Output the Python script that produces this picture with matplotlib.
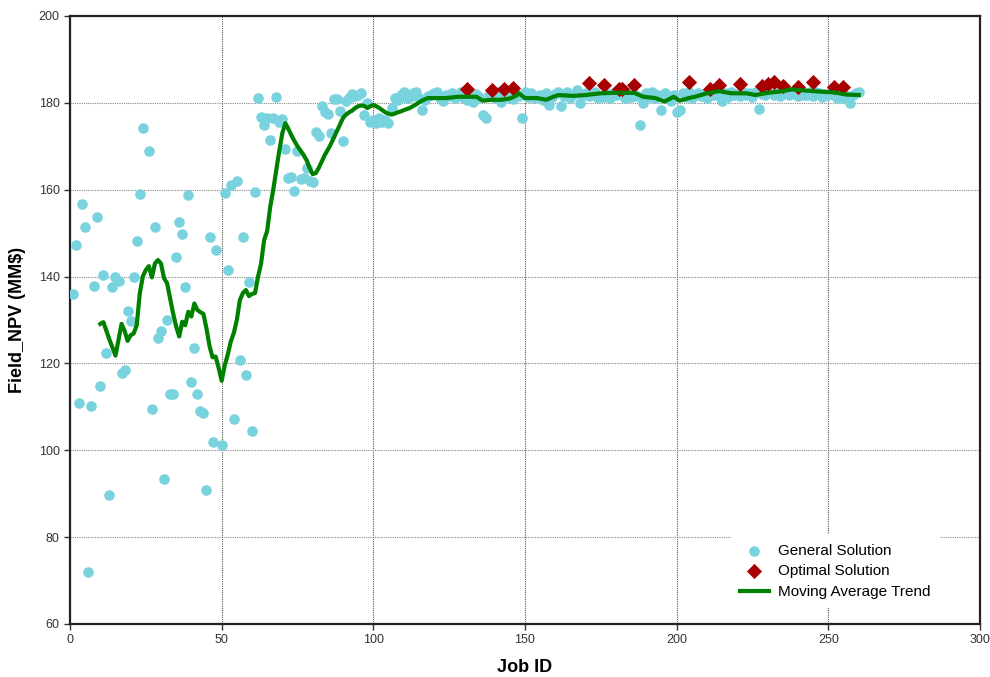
import numpy as np
import matplotlib
matplotlib.use("Agg")
import matplotlib.pyplot as plt

plt.rcParams['font.family'] = ['Liberation Sans', 'DejaVu Sans']

# general solutions, jobs 1-120
gen_jobs_early = [1, 2, 3, 4, 5, 6, 7, 8, 9, 10, 11, 12, 13, 14, 15, 16, 17, 18, 19, 20,
                  21, 22, 23, 24, 26, 27, 28, 29, 30, 31, 32, 33, 34, 35, 36, 37, 38, 39, 40,
                  41, 42, 43, 44, 45, 46, 47, 48, 50, 51, 52, 53, 54, 55, 56, 57, 58, 59, 60,
                  61, 62, 63, 64, 65, 66, 67, 68, 69, 70, 71, 72, 73, 74, 75, 76, 77, 78, 79,
                  80, 81, 82, 83, 84, 85, 86, 87, 88, 89, 90, 91, 92, 93, 94, 95, 96, 97, 98,
                  99, 100, 101, 102, 103, 104, 105, 106, 107, 108, 109, 110, 111, 112, 113,
                  114, 115, 116, 117, 118, 119, 120]
gen_vals_early = [136.0, 147.2, 110.8, 156.7, 151.3, 72.0, 110.2, 137.8, 153.7, 114.9,
                  140.3, 122.5, 89.6, 137.5, 139.8, 138.9, 117.7, 118.4, 132.0, 129.8,
                  139.8, 148.3, 159.0, 174.2, 168.9, 109.4, 151.3, 125.9, 127.5, 93.5,
                  130.0, 112.9, 112.9, 144.5, 152.6, 149.7, 137.5, 158.7, 115.8,
                  123.5, 113.0, 109.1, 108.5, 90.8, 149.2, 101.9, 146.0, 101.2, 159.2,
                  141.5, 161.0, 107.2, 161.9, 120.8, 149.1, 117.3, 138.7, 104.4,
                  159.5, 181.0, 176.8, 174.9, 176.6, 171.4, 176.5, 181.4, 175.7, 176.3,
                  169.3, 162.6, 163.0, 159.7, 169.0, 162.5, 162.6, 164.9, 161.9,
                  161.8, 173.3, 172.4, 179.2, 177.8, 177.4, 173.0, 180.8, 180.9, 178.2,
                  171.1, 180.4, 181.0, 182.0, 181.5, 181.9, 182.2, 177.2, 180.0,
                  175.7, 176.0, 175.3, 176.5, 175.5, 176.0, 175.3, 178.8, 181.0, 180.7,
                  181.8, 182.6, 181.0, 181.4, 182.2, 182.5, 181.0, 178.4, 180.7, 181.5,
                  181.8, 182.2]

# general solutions, jobs 121-260
gen_jobs_late = list(range(121, 261))
gen_vals_late = [182.5, 181.2, 180.5, 181.8, 181.6, 182.3, 181.0, 181.9, 182.6, 181.2,
                 180.7, 181.5, 180.3, 182.0, 181.3, 177.2, 176.4, 181.8, 182.3, 181.0,
                 182.4, 180.3, 181.7, 182.1, 181.2, 180.8, 182.0, 181.5, 176.6, 182.6,
                 181.4, 182.2, 181.0, 181.6, 181.8, 180.6, 182.2, 179.5, 181.3, 182.0,
                 182.6, 179.2, 181.5, 182.6, 181.2, 182.1, 183.0, 179.9, 181.7, 182.3,
                 181.5, 181.8, 182.4, 181.0, 181.6, 181.4, 182.0, 181.2, 182.2, 181.7,
                 182.5, 181.8, 181.0, 182.3, 181.4, 182.0, 181.6, 175.0, 179.9, 182.2,
                 181.3, 182.5, 181.0, 181.8, 178.4, 182.2, 181.5, 180.5, 181.8, 178.0,
                 178.3, 182.2, 181.4, 182.6, 181.0, 181.8, 182.3, 181.5, 182.0, 181.2,
                 182.5, 181.8, 182.2, 181.6, 180.5, 182.3, 181.4, 182.6, 181.8, 182.0,
                 181.5, 182.6, 181.9, 182.2, 181.3, 182.4, 178.5, 182.0, 181.7, 182.5,
                 182.2, 181.8, 182.6, 181.5, 182.1, 182.2, 181.9, 182.5, 182.0, 181.6,
                 182.3, 181.9, 181.8, 182.4, 181.5, 182.6, 182.2, 181.4, 182.0, 181.8,
                 182.3, 181.8, 181.2, 182.0, 181.0, 181.5, 179.9, 181.7, 182.2, 182.6]

gen_jobs = gen_jobs_early + gen_jobs_late
gen_vals = gen_vals_early + gen_vals_late

# optimal solutions
opt_jobs = [131, 139, 143, 146, 171, 176, 181, 182, 186, 204, 211, 214, 221,
            228, 230, 232, 235, 240, 245, 252, 255]
opt_vals = [183.1, 182.9, 183.3, 183.5, 184.5, 184.0, 183.1, 183.3, 184.0, 184.7,
            183.3, 184.1, 184.3, 183.9, 184.4, 184.7, 183.9, 183.6, 184.8, 183.6, 183.6]

# moving average trend
trend_jobs = [10, 11, 13, 15, 16, 17, 18, 19, 20, 21, 22, 23, 24, 25, 26, 27, 28, 29, 30,
              31, 32, 33, 34, 35, 36, 37, 38, 39, 40, 41, 42, 43, 44, 45, 46, 47, 48, 49,
              50, 51, 52, 53, 54, 55, 56, 57, 58, 59, 60, 61, 62, 63, 64, 65, 66, 67, 68,
              69, 70, 71, 72, 73, 74, 75, 76, 77, 78, 79, 80, 81, 82, 83, 84, 85, 86, 87,
              88, 89, 90, 91, 92, 93, 94, 95, 96, 97, 98, 99, 100, 101, 102, 103, 104,
              105, 106, 107, 108, 109, 110, 112, 114, 116, 118, 121, 124, 128, 134, 136,
              139, 142, 145, 147, 148, 150, 154, 157, 159, 161, 166, 170, 175, 179, 186,
              189, 193, 196, 199, 201, 204, 206, 210, 214, 218, 223, 226, 230, 234, 238,
              243, 247, 252, 256, 260]
trend_vals = [129.1, 129.5, 125.5, 121.8, 125.5, 129.1, 127.5, 125.2, 126.5, 126.9,
              128.8, 136.1, 140.0, 141.5, 142.4, 139.8, 143.0, 143.8, 143.0,
              139.6, 138.5, 135.0, 131.5, 128.5, 126.2, 129.6, 128.8, 131.9, 130.8,
              133.8, 132.3, 131.8, 131.4, 128.0, 124.0, 121.4, 121.6, 119.0,
              116.0, 119.5, 122.0, 125.0, 127.0, 130.0, 134.6, 136.2, 136.9, 135.5,
              136.0, 136.2, 140.0, 143.0, 148.4, 150.5, 156.0, 160.0, 164.5,
              169.0, 173.0, 175.3, 174.0, 172.5, 171.2, 170.0, 169.0, 168.0, 166.8,
              165.0, 163.6, 163.8, 165.0, 166.5, 168.0, 169.2, 170.5, 172.0,
              173.5, 175.0, 176.5, 177.3, 177.8, 178.2, 178.8, 179.2, 179.4, 179.3,
              178.8, 179.2, 179.5, 179.2, 178.8, 178.3, 177.8,
              177.5, 177.3, 177.5, 177.8, 178.0, 178.3, 178.8, 179.6, 180.5, 181.1,
              181.1, 181.1, 181.4, 181.4, 180.5,
              180.7, 180.7, 181.0, 181.6, 182.2, 181.1, 181.1, 180.7, 181.3, 181.8,
              181.6, 181.8, 182.2, 182.3, 182.3,
              181.4, 181.1, 180.3, 181.4, 180.5, 181.1, 181.4, 182.2, 182.7, 182.2,
              182.2, 181.8, 182.3, 182.6, 183.1,
              182.8, 182.6, 182.4, 181.9, 181.8]

fig, ax = plt.subplots(figsize=(9.9, 6.77), dpi=100)
fig.subplots_adjust(left=0.0707, right=0.9899, top=0.9764, bottom=0.0783)

ax.scatter(gen_jobs, gen_vals, s=58, color='#79D3DF', linewidths=0, zorder=3,
           label='General Solution')
ax.scatter(opt_jobs, opt_vals, s=60, marker='D', color='#A80000', linewidths=0, zorder=4,
           label='Optimal Solution')
ax.plot(trend_jobs, trend_vals, color='#008000', lw=3, zorder=5,
        label='Moving Average Trend')

ax.set_xlim(0, 300)
ax.set_ylim(60, 200)
ax.set_xticks(np.arange(0, 301, 50))
ax.set_yticks(np.arange(60, 201, 20))
ax.tick_params(labelsize=9, labelcolor='#333333', length=4, width=1, color='#333333')

ax.xaxis.grid(True, linestyle=(0, (1, 1)), color='#555555', lw=0.8)
ax.yaxis.grid(True, linestyle=(0, (1, 1)), color='#888888', lw=0.8)
ax.set_axisbelow(True)
for sp in ax.spines.values():
    sp.set_linewidth(1.6)
    sp.set_color('#222222')

ax.set_xlabel('Job ID', fontsize=13, fontweight='bold', labelpad=9)
ax.set_ylabel('Field_NPV (MM$)', fontsize=13, fontweight='bold', labelpad=9)

leg = ax.legend(loc='lower right', bbox_to_anchor=(0.964, 0.013), fontsize=11,
                frameon=True, fancybox=False, edgecolor='none', facecolor='white',
                framealpha=1, handlelength=1.9, borderpad=0.6, labelspacing=0.45,
                handletextpad=0.6)
leg.set_zorder(10)

plt.savefig('out.png', dpi=100)
